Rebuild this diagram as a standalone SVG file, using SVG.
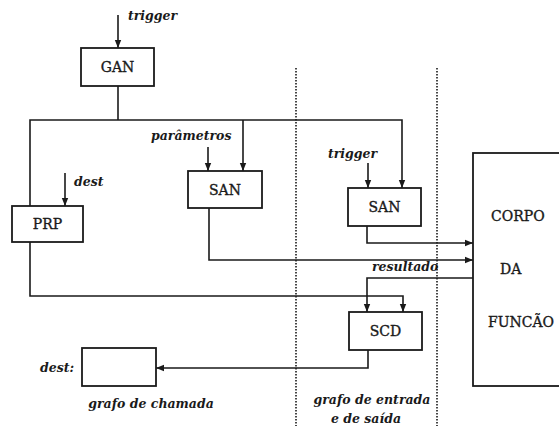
<svg xmlns="http://www.w3.org/2000/svg" width="559" height="426" viewBox="0 0 559 426">
  <style>
    .box { fill: none; stroke: #1a1a1a; stroke-width: 1.8; }
    .conn { fill: none; stroke: #1a1a1a; stroke-width: 1.6; }
    .sep { fill: none; stroke: #1a1a1a; stroke-width: 1.6; stroke-dasharray: 1.5 1.5; }
    .lbl { font-family: "DejaVu Serif", "Liberation Serif", serif; font-size: 14px; fill: #1a1a1a; stroke: #1a1a1a; stroke-width: 0.35; }
    .it { font-family: "DejaVu Serif", "Liberation Serif", serif; font-size: 12.5px; font-style: italic; font-weight: bold; fill: #1a1a1a; }
  </style>
  <defs>
    <marker id="arr" viewBox="0 0 8 8" refX="8" refY="4" markerWidth="8" markerHeight="8" markerUnits="userSpaceOnUse" orient="auto">
      <path d="M0,0.8 L8,4 L0,7.2 Z" fill="#1a1a1a"/>
    </marker>
  </defs>
  <rect width="559" height="426" fill="#ffffff"/>

  <g id="separators">
    <line class="sep" x1="296" y1="68" x2="296" y2="426"/>
    <line class="sep" x1="437" y1="68" x2="437" y2="426"/>
  </g>

  <g id="connectors">
    <line class="conn" x1="118" y1="15" x2="118" y2="48" marker-end="url(#arr)"/>
    <polyline class="conn" points="118,86 118,120"/>
    <polyline class="conn" points="30,206 30,120 402,120 402,188" marker-end="url(#arr)"/>
    <line class="conn" x1="65" y1="173" x2="65" y2="206" marker-end="url(#arr)"/>
    <line class="conn" x1="243" y1="120" x2="243" y2="171" marker-end="url(#arr)"/>
    <line class="conn" x1="208" y1="147" x2="208" y2="171" marker-end="url(#arr)"/>
    <line class="conn" x1="368" y1="163" x2="368" y2="188" marker-end="url(#arr)"/>
    <polyline class="conn" points="367,226 367,243 473,243" marker-end="url(#arr)"/>
    <polyline class="conn" points="209,208 209,260 473,260" marker-end="url(#arr)"/>
    <polyline class="conn" points="473,278 367,278 367,312" marker-end="url(#arr)"/>
    <polyline class="conn" points="30,242 30,296 403,296 403,312" marker-end="url(#arr)"/>
    <polyline class="conn" points="368,350 368,368 156,368" marker-end="url(#arr)"/>
  </g>

  <g id="GAN">
    <rect class="box" x="81" y="48" width="73" height="38"/>
    <text class="lbl" x="117.5" y="72" text-anchor="middle">GAN</text>
  </g>
  <g id="PRP">
    <rect class="box" x="12" y="206" width="71" height="36"/>
    <text class="lbl" x="47.5" y="229" text-anchor="middle">PRP</text>
  </g>
  <g id="SAN1">
    <rect class="box" x="188" y="171" width="74" height="37"/>
    <text class="lbl" x="225" y="195" text-anchor="middle">SAN</text>
  </g>
  <g id="SAN2">
    <rect class="box" x="348" y="188" width="73" height="38"/>
    <text class="lbl" x="384.5" y="212" text-anchor="middle">SAN</text>
  </g>
  <g id="SCD">
    <rect class="box" x="349" y="312" width="73" height="38"/>
    <text class="lbl" x="385.5" y="336" text-anchor="middle">SCD</text>
  </g>
  <g id="dest-box">
    <rect class="box" x="82" y="348" width="74" height="38"/>
  </g>
  <g id="CORPO">
    <rect class="box" x="473" y="153" width="100" height="233"/>
    <text class="lbl" x="491" y="221">CORPO</text>
    <text class="lbl" x="500" y="274">DA</text>
    <text class="lbl" x="488" y="327">FUNCÃO</text>
  </g>

  <g id="labels">
    <text class="it" x="128" y="20">trigger</text>
    <text class="it" x="151" y="140">parâmetros</text>
    <text class="it" x="74" y="186">dest</text>
    <text class="it" x="328" y="158">trigger</text>
    <text class="it" x="372" y="271">resultado</text>
    <text class="it" x="40" y="372">dest:</text>
    <text class="it" x="151" y="408" text-anchor="middle">grafo de chamada</text>
    <text class="it" x="372" y="404" text-anchor="middle">grafo de entrada</text>
    <text class="it" x="366" y="423" text-anchor="middle">e de saída</text>
  </g>
</svg>
